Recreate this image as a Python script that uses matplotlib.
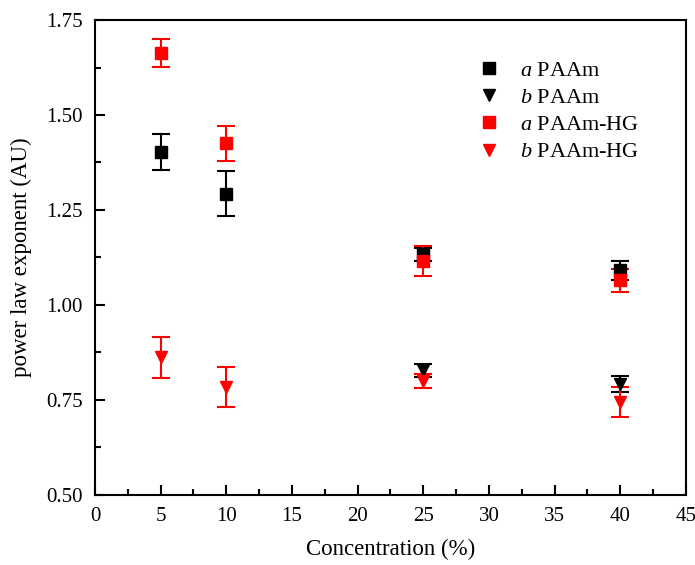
import matplotlib
matplotlib.use("Agg")
import matplotlib.pyplot as plt
from matplotlib.lines import Line2D
from matplotlib.ticker import MultipleLocator, FormatStrFormatter

plt.rcParams["font.family"] = ["Liberation Serif", "DejaVu Serif"]
plt.rcParams["mathtext.fontset"] = "custom"
plt.rcParams["mathtext.it"] = "Liberation Serif:italic"
plt.rcParams["mathtext.rm"] = "Liberation Serif"

# Exponents a and b for each gel, with their error bars
conc_a_paam = [5, 10, 25, 40]
a_paam = [1.403, 1.293, 1.133, 1.092]
a_paam_err = [0.047, 0.060, 0.018, 0.025]

conc_b_paam = [25, 40]
b_paam = [0.828, 0.792]
b_paam_err = [0.018, 0.021]

conc_a_hg = [5, 10, 25, 40]
a_hg = [1.664, 1.425, 1.115, 1.065]
a_hg_err = [0.037, 0.047, 0.040, 0.030]

conc_b_hg = [5, 10, 25, 40]
b_hg = [0.862, 0.785, 0.800, 0.745]
b_hg_err = [0.055, 0.053, 0.018, 0.040]

labels = [r"$a$ PAAm", r"$b$ PAAm", r"$a$ PAAm-HG", r"$b$ PAAm-HG"]

fig = plt.figure(figsize=(6.95, 5.65), dpi=100)
ax = fig.add_axes([0.1367, 0.1239, 0.8503, 0.8407])

style = dict(linestyle="none", markersize=8, elinewidth=1.5, capsize=6.5, capthick=1.5)
ax.errorbar(conc_a_paam, a_paam, yerr=a_paam_err, fmt="s", color="black", **style)
ax.errorbar(conc_b_paam, b_paam, yerr=b_paam_err, fmt="v", color="black", **style)
ax.errorbar(conc_a_hg, a_hg, yerr=a_hg_err, fmt="s", color="red", **style)
ax.errorbar(conc_b_hg, b_hg, yerr=b_hg_err, fmt="v", color="red", **style)

ax.set_xlim(0, 45)
ax.set_ylim(0.5, 1.75)
ax.xaxis.set_major_locator(MultipleLocator(5))
ax.xaxis.set_minor_locator(MultipleLocator(2.5))
ax.yaxis.set_major_locator(MultipleLocator(0.25))
ax.yaxis.set_minor_locator(MultipleLocator(0.125))
ax.yaxis.set_major_formatter(FormatStrFormatter("%.2f"))
ax.tick_params(which="both", direction="in", top=False, right=False,
               labelsize=15, width=1.5, pad=9)
ax.tick_params(which="major", length=7)
ax.tick_params(which="minor", length=4)
for s in ax.spines.values():
    s.set_linewidth(1.5)

ax.set_xlabel("Concentration (%)", fontsize=16.5, labelpad=9)
ax.set_ylabel("power law exponent (AU)", fontsize=16.5, labelpad=10)

# legend shows the markers only
handles = [
    Line2D([], [], marker="s", color="black", linestyle="none", markersize=8),
    Line2D([], [], marker="v", color="black", linestyle="none", markersize=9),
    Line2D([], [], marker="s", color="red", linestyle="none", markersize=8),
    Line2D([], [], marker="v", color="red", linestyle="none", markersize=9),
]
ax.legend(handles, labels, loc="upper left", bbox_to_anchor=(0.633, 0.934),
          frameon=False, fontsize=16, handletextpad=0.9, labelspacing=0.3,
          handlelength=1.0, borderaxespad=0)

fig.savefig("out.png", dpi=100)
